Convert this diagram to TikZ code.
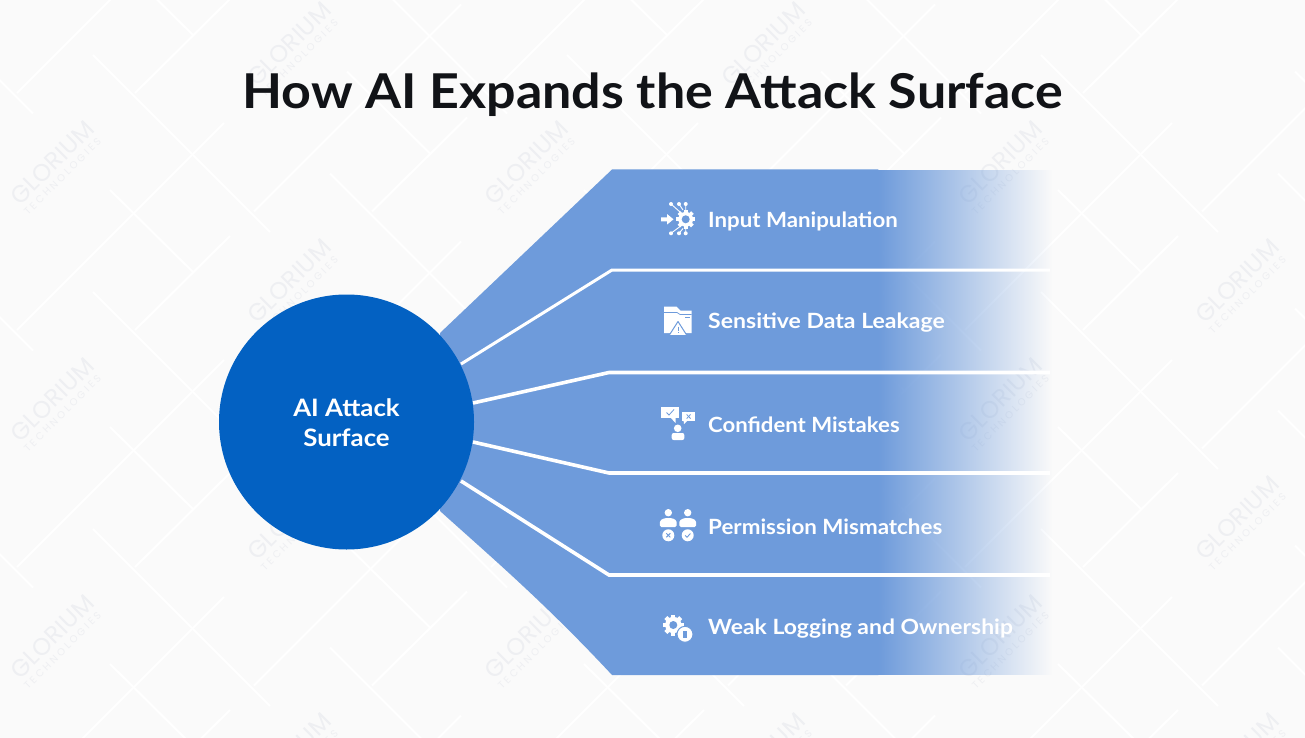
\documentclass[tikz,border=0pt]{standalone}
\usepackage{fontspec}
\usepackage{graphicx}
\usetikzlibrary{fadings}
\setmainfont{Lato}
\newfontfamily\titlefont[FakeStretch=1.083]{Lato}
\newfontfamily\labelfont[FakeStretch=1.065]{Lato}
\newfontfamily\discfont[FakeStretch=1.075]{Lato}
\newfontfamily\wmafont[LetterSpace=1]{Poppins}
\newfontfamily\wmbfont[LetterSpace=28]{Poppins}
\definecolor{pagebg}{HTML}{FAFAFA}
\definecolor{wmgrey}{HTML}{EEEFF2}
\definecolor{bandblue}{HTML}{6E9BDB}
\definecolor{discblue}{HTML}{0361C2}
\definecolor{titleink}{HTML}{111317}
\tikzfading[name=bandfade,left color=transparent!0,right color=transparent!100]
\tikzset{
  tileline/.style={draw=white,line width=2pt},
  divider/.style={draw=white,line width=3.6pt,miter limit=10},
  wmmain/.style={text=wmgrey,font=\wmafont\fontsize{24}{24}\selectfont,rotate=45,inner sep=0pt},
  wmsub/.style={text=wmgrey,font=\wmbfont\fontsize{10}{10}\selectfont,rotate=45,inner sep=0pt},
  itemlabel/.style={text=white,anchor=west,inner sep=0pt,font=\labelfont\bfseries\fontsize{21}{21}\selectfont},
}
\newcommand{\drawgear}[4]{% x y radius hole
  \fill[white] (#1,#2) circle[radius=#3*0.78];
  \foreach \ang in {0,45,...,315}{
    \fill[white,shift={(#1,#2)},rotate=\ang] (#3*0.7,-#3*0.2) rectangle (#3,#3*0.2);
  }
  \fill[bandblue] (#1,#2) circle[radius=#4];
}
\begin{document}
\begin{tikzpicture}[x=1pt,y=-1pt]
\useasboundingbox (0,0) rectangle (1305,738);
\clip (0,0) rectangle (1305,738);
\fill[pagebg] (0,0) rectangle (1305,738);
% background tile lines
\foreach \i in {-1,...,6}{
  \foreach \j in {-3,...,3}{
    \pgfmathsetmacro{\ox}{237*\i}
    \pgfmathsetmacro{\oy}{118.5*\i+237*\j}
    \begin{scope}[shift={(\ox,\oy)}]
      \draw[tileline] (93,55) -- (270,232);
      \draw[tileline] (110,190) -- (193,272);
      \draw[tileline] (17,330) -- (224,123);
      \draw[tileline] (135,330) -- (230,236);
    \end{scope}
  }
}
% watermarks
\foreach \i in {0,...,5}{
  \foreach \j in {-2,...,3}{
    \pgfmathsetmacro{\wx}{52+237*\i}
    \pgfmathsetmacro{\wy}{162.5+118.5*\i+237*\j}
    \pgfmathparse{(\wy>-40 && \wy<790) ? 1 : 0}
    \ifnum\pgfmathresult=1
      \node[wmmain] (wma\i x\j) at (\wx,\wy) {GLORIUM};
      \node[wmsub] (wmb\i x\j) at (\wx+10.5,\wy+14) {TECHNOLOGIES};
    \fi
  }
}
% band: solid part, then fading part
\fill[bandblue]
  (440,333) -- (612,169.5) -- (878.3,169.5) -- (878.3,675) -- (612,675)
  .. controls (545,603) and (490,556) .. (440,511) -- cycle;
\fill[bandblue,path fading=bandfade,fit fading=true] (878,169.5) rectangle (1052,675);
% dividers
\draw[divider,line width=3pt] (461,364) -- (612,270) -- (1050,270);
\draw[divider] (473,403) -- (609,372.5) -- (1050,372.5);
\draw[divider] (473,442) -- (609,473) -- (1050,473);
\draw[divider] (461,481) -- (609,575) -- (1050,575);
% disc
\node[circle,fill=discblue,minimum size=255pt,inner sep=0pt] (disc) at (346.5,422) {};
\node[inner sep=0pt,text=white,align=center,font=\discfont\bfseries\fontsize{24}{30}\selectfont] (disctext) at (346.5,423) {AI Attack\\Surface};
% title
\node[inner sep=0pt,text=titleink,font=\titlefont\bfseries\fontsize{48}{48}\selectfont] (title) at (652.5,94.5) {How AI Expands the Attack Surface};
% labels
\node[itemlabel] (item1) at (708,221) {\scalebox{0.995}[1]{Input Manipulation}};
\node[itemlabel] (item2) at (708,323) {\scalebox{1.03}[1]{Sensitive Data Leakage}};
\node[itemlabel] (item3) at (708,425) {\scalebox{0.99}[1]{Confident Mistakes}};
\node[itemlabel] (item4) at (708,527) {Permission Mismatches};
\node[itemlabel] (item5) at (708,629) {\scalebox{1.024}[1]{Weak Logging and Ownership}};
% icon 1
\drawgear{685.7}{219.3}{9.5}{4}
\fill[white] (661,217.3) -- (667,217.3) -- (667,214) -- (673.5,219.3) -- (667,224.6) -- (667,221.3) -- (661,221.3) -- cycle;
\draw[white,line width=0.9pt] (671,204) -- (680,212) (679,204) -- (683,210) (685.7,204) -- (685.7,210)
  (671,233.3) -- (680,226.5) (679,233.3) -- (683,228.5) (685.7,233.3) -- (685.7,229);
\foreach \dx in {671,679,685.7}{
  \fill[white] (\dx,204) circle[radius=2];
  \fill[white] (\dx,233.3) circle[radius=2];
}
% icon 2
\fill[white] (664,306.7) -- (676.5,306.7) -- (680.5,310.7) -- (691.7,310.7) -- (691.7,333) -- (664,333) -- cycle;
\draw[bandblue,line width=0.7pt] (664,312.5) -- (677,312.5) -- (680,314.5) -- (691.7,314.5);
\draw[bandblue,line width=0.9pt] (685,317) -- (690,317);
\fill[white,draw=bandblue,line width=1pt,line join=round] (669,335.6) -- (678,321.5) -- (687,335.6) -- cycle;
\draw[bandblue,line width=1pt] (678,326.5) -- (678,331) (678,332.2) -- (678,333.4);
% icon 3
\fill[white] (661,406.7) rectangle (679,417.5);
\fill[white] (670,417) -- (675.5,423) -- (675.5,417) -- cycle;
\draw[bandblue,line width=0.8pt] (666.5,412.5) -- (669,415) -- (674,409.5);
\fill[white] (682.3,412.3) rectangle (695,420.7);
\fill[white] (683.5,420) -- (684,424) -- (688,420) -- cycle;
\draw[bandblue,line width=0.8pt] (686.7,414.5) -- (690.5,418.5) (690.5,414.5) -- (686.7,418.5);
\fill[white] (677.7,428.3) circle[radius=3.8];
\fill[white,rounded corners=2pt] (671.7,440) -- (671.7,433) -- (684.3,433) -- (684.3,440) -- cycle;
% icon 4
\foreach \px/\py in {668.3/1,687.7/2}{
  \fill[white] (\px,512.7) circle[radius=3.7];
  \fill[white,rounded corners=1.5pt] (\px-8.4,527) -- (\px-8.4,520.5) -- (\px-3.5,518) -- (\px+3.5,518) -- (\px+8.4,520.5) -- (\px+8.4,527) -- cycle;
  \fill[white] (\px,535.3) circle[radius=6];
}
\draw[bandblue,line width=0.9pt] (666.3,533.3) -- (670.3,537.3) (670.3,533.3) -- (666.3,537.3);
\draw[bandblue,line width=0.9pt] (685.2,535.5) -- (687,537.3) -- (690.4,533.5);
% icon 5
\drawgear{673.3}{625}{10.5}{4}
\fill[white,draw=bandblue,line width=1pt] (685,634.3) circle[radius=8];
\fill[bandblue] (683.3,630.5) rectangle (686.7,638);
\end{tikzpicture}
\end{document}
